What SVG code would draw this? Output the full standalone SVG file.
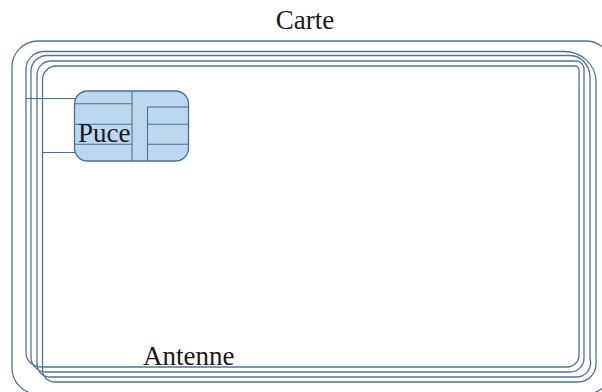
<svg xmlns="http://www.w3.org/2000/svg" width="602" height="392" viewBox="0 0 602 392">
<style>
.l{fill:none;stroke:#4f7594;stroke-width:1.3}
.w{fill:none;stroke:#41719c;stroke-width:1.1}
.t{font-family:"Liberation Serif","Times New Roman",serif;font-size:27px;fill:#1a1a1a}
</style>
<rect width="602" height="392" fill="#fff"/>
<g id="carte">
<rect class="l" x="12" y="41" width="600" height="353" rx="26"/>
<text class="t" x="305" y="29" text-anchor="middle">Carte</text>
</g>
<g id="antenne">
<path class="l" d="M26 69A18 18 0 0 1 44 51.500H564A32 30 0 0 1 596 81V364A18 18 0 0 1 578 382H54A12 12 0 0 1 42.500 370V80A14 14 0 0 1 56 66H575A4 4 0 0 1 579 70V355A12 12 0 0 1 567 367H42A16 14 0 0 1 26 353Z"/>
<path class="l" d="M31 71A16 16 0 0 1 47 55.500H570A20 22 0 0 1 590 77V359A14 14 0 0 1 576 377H50A13 13 0 0 1 37 364V75A14 14 0 0 1 51 61H576A8 8 0 0 1 584 69V358A14 14 0 0 1 570 372H46A15 15 0 0 1 31 357Z"/>
<text class="t" x="143" y="365">Antenne</text>
</g>
<g id="connecteurs">
<path class="w" d="M26 98.500H75M42.500 152.500H75"/>
</g>
<g id="puce">
<rect x="74.500" y="91" width="114" height="70" rx="13" fill="#bdd7ee" stroke="#41719c" stroke-width="1.3"/>
<path class="w" d="M74.500 103.700H132M74.500 124.300H132M74.500 144.300H132M132 91V161M147.500 161V107H188.500M147.500 124.300H188.500M147.500 144.300H188.500"/>
<text class="t" x="78" y="142">Puce</text>
</g>
</svg>
